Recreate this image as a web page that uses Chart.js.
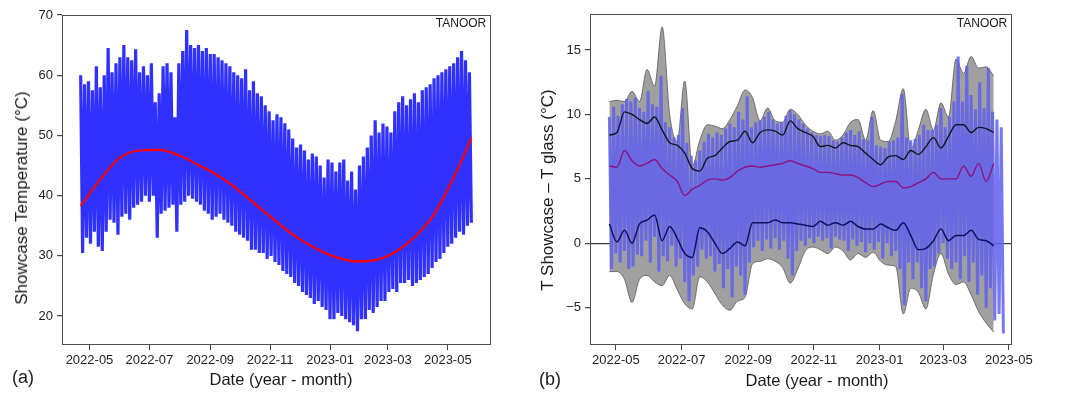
<!DOCTYPE html>
<html>
<head>
<meta charset="utf-8">
<title>TANOOR showcase temperature</title>
<script src="https://cdn.jsdelivr.net/npm/chart.js@4.4.1/dist/chart.umd.min.js"></script>
<style>
  html, body { margin: 0; padding: 0; background: #fff; }
  body { position: relative; width: 1067px; height: 394px; overflow: hidden;
         font-family: "Liberation Sans", Arial, sans-serif; color: #1a1a1a; }
  canvas { position: absolute; top: 0; }
  #chartA { left: 0; }
  #chartB { left: 530px; }
  .txt { position: absolute; white-space: nowrap; transform: translate(-50%, -50%); }
  .ytitle { transform: translate(-50%, -50%) rotate(-90deg); font-size: 17px; }
  .xtitle { font-size: 16.5px; }
  .tag { font-size: 18px; }
  .site { font-size: 12px; }
</style>
</head>
<body>
<canvas id="chartA" width="530" height="394"></canvas>
<canvas id="chartB" width="537" height="394"></canvas>

<div class="txt ytitle" style="left:22px;top:198px">Showcase Temperature (°C)</div>
<div class="txt xtitle" style="left:281px;top:379px">Date (year - month)</div>
<div class="txt tag" style="left:23px;top:377px">(a)</div>
<div class="txt site" style="left:461px;top:23px">TANOOR</div>

<div class="txt ytitle" style="left:548px;top:190px">T Showcase – T glass (°C)</div>
<div class="txt xtitle" style="left:817px;top:380px">Date (year - month)</div>
<div class="txt tag" style="left:550px;top:379px">(b)</div>
<div class="txt site" style="left:982px;top:23px">TANOOR</div>

<script>
// x-axis ticks, shared by both panels
const dateTicks = ['2022-05', '2022-07', '2022-09', '2022-11', '2023-01', '2023-03', '2023-05'];

// (a) showcase temperature: daily max / min, read every 4 days from 2022-04-22
const aFirst = '2022-04-22';
const aStep = 4;
const aMax = [60.0, 58.5, 59.0, 57.5, 61.5, 58.0, 60.0, 64.5, 60.5, 62.0,
              63.0, 65.0, 63.0, 62.5, 64.3, 60.5, 61.5, 60.0, 62.0, 55.5,
              57.0, 61.5, 62.0, 60.5, 53.0, 62.0, 64.0, 67.5, 65.0, 64.5,
              65.0, 64.0, 64.5, 63.5, 63.5, 63.0, 62.5, 62.0, 61.5, 60.5,
              60.0, 59.5, 61.0, 57.5, 59.0, 57.0, 56.5, 55.0, 54.0, 52.5,
              53.5, 53.0, 52.0, 51.0, 49.5, 48.0, 48.5, 47.5, 46.0, 47.0,
              46.5, 45.0, 43.0, 46.0, 45.5, 44.0, 45.5, 46.0, 42.5, 44.0,
              41.0, 45.0, 46.5, 48.0, 50.0, 52.5, 50.5, 52.0, 51.5, 50.5,
              54.0, 55.5, 56.5, 55.0, 56.0, 57.0, 55.5, 57.5, 58.0, 58.5,
              59.5, 60.0, 60.5, 61.0, 61.5, 62.0, 63.0, 64.0, 62.5, 60.5];
const aMin = [30.5, 33.0, 32.0, 34.0, 31.5, 30.8, 34.0, 36.0, 35.5, 33.5,
              36.5, 37.0, 36.0, 38.0, 38.5, 39.0, 40.0, 39.0, 40.0, 33.0,
              37.0, 37.5, 38.0, 38.5, 34.0, 38.5, 39.0, 40.0, 39.5, 39.0,
              38.5, 37.5, 37.0, 36.0, 36.5, 37.0, 36.0, 35.5, 35.0, 34.0,
              33.5, 33.0, 32.5, 31.0, 31.0, 30.5, 30.5, 29.5, 30.0, 29.0,
              28.5, 27.5, 27.0, 26.5, 25.5, 25.0, 24.0, 23.5, 23.0, 22.0,
              22.5, 21.5, 21.0, 19.5, 19.5, 20.5, 20.0, 19.5, 19.0, 18.5,
              17.5, 19.5, 19.5, 21.0, 20.5, 21.5, 22.5, 22.5, 24.0, 24.5,
              24.0, 25.5, 25.5, 26.0, 25.0, 25.5, 26.0, 26.5, 27.0, 28.0,
              29.0, 29.5, 30.5, 31.5, 32.0, 33.0, 34.0, 33.5, 35.0, 35.5];
// red trend curve, days after 2022-04-22
const trendDay = [0, 20, 40, 60, 80, 100, 120, 140, 160, 180, 200,
                  220, 240, 260, 280, 300, 320, 340, 360, 380, 398];
const trendTemp = [38.3, 42.7, 46.3, 47.5, 47.6, 46.7, 45.1, 43.3, 41.0, 38.3, 35.6,
                   33.1, 31.2, 29.8, 29.1, 29.3, 30.6, 33.1, 36.9, 43.0, 49.6];

// (b) T showcase - T glass: hourly spread read every 4 days from 2022-04-25
const bFirst = '2022-04-25';
const bBlueStep = 4;
const bHi = [9.8, 10.6, 9.9, 10.8, 11.2, 11.0, 11.3, 10.5, 10.2, 11.8,
             10.8, 10.6, 13.0, 9.4, 9.0, 8.2, 8.4, 10.5, 7.8, 6.8,
             6.4, 7.2, 7.9, 8.5, 8.2, 8.6, 8.4, 8.9, 9.3, 9.0,
             10.2, 9.6, 11.4, 9.0, 9.4, 9.5, 9.8, 10.2, 9.6, 9.3,
             9.4, 9.9, 10.3, 10.0, 9.6, 9.3, 8.9, 8.6, 8.4, 8.3,
             8.4, 8.3, 8.0, 7.9, 8.2, 8.6, 8.8, 8.4, 8.7, 8.1,
             8.0, 9.8, 7.6, 7.5, 7.4, 7.9, 8.0, 8.2, 11.6, 8.2,
             8.0, 8.1, 8.4, 9.2, 8.8, 8.8, 9.2, 10.5, 9.0, 9.8,
             11.0, 14.5, 11.0, 13.8, 11.5, 10.4, 12.5, 10.5, 13.6, 10.2,
             9.6, 9.0];
const bLo = [-2.0, -0.8, -1.5, -0.6, -2.0, -1.8, -0.9, -1.0, 0.2, -1.5,
             0.5, -2.2, -1.0, -1.4, -0.2, -1.8, -1.2, -3.0, -4.5, -2.5,
             -1.8, -0.5, -1.2, -1.0, -2.2, -1.6, -3.5, -2.0, -4.2, -1.8,
             -2.5, -4.0, -1.5, -0.3, 0.2, -0.6, 0.3, -0.4, 0.4, -0.5,
             0.2, -1.2, -2.5, -0.6, 0.2, -0.2, 0.4, 0.0, 0.5, 0.2,
             0.4, -0.4, 0.5, 0.3, 0.2, -0.6, 0.3, -0.2, 0.1, -0.7,
             0.0, -0.5, 0.1, -1.2, 0.0, -1.0, -0.6, -2.0, -4.8, -1.5,
             -2.8, -1.5, -3.5, -4.5, -2.0, -1.8, -0.8, 0.0, -1.2, -2.0,
             -1.5, -2.8, -1.0, -3.0, -1.5, -4.0, -2.5, -5.0, -3.5, -6.0,
             -5.5, -7.0];
// smoothed curves, read every 7 days from 2022-04-25
const bLineStep = 7;
const grayTop = [11.0, 11.1, 11.0, 11.8, 11.0, 13.5, 12.2, 16.8, 10.0, 7.9,
                 12.6, 6.0, 8.0, 9.2, 9.1, 8.9, 9.6, 10.7, 11.9, 11.3,
                 9.5, 10.5, 9.5, 9.4, 10.4, 10.0, 9.2, 8.7, 8.5, 8.7,
                 8.0, 8.4, 9.4, 9.6, 8.0, 10.3, 8.0, 7.9, 9.5, 12.0,
                 7.3, 8.8, 10.4, 8.8, 10.9, 9.8, 14.3, 13.2, 14.5, 13.6,
                 13.7, 13.0];
const grayBottom = [-2.2, -2.2, -2.8, -4.6, -2.8, -2.5, -3.0, -3.3, -2.5, -3.6,
                    -4.7, -5.1, -2.6, -3.0, -3.9, -4.8, -5.2, -4.5, -4.2, -1.6,
                    -1.4, -1.2, -1.4, -1.9, -3.1, -2.0, -0.6, -0.3, -0.5, -0.8,
                    -0.3, -0.6, -1.3, -0.8, -1.1, -0.7, -1.4, -1.7, -1.8, -5.5,
                    -3.5, -3.8, -5.1, -2.4, -0.8, -2.4, -3.2, -3.0, -4.0, -5.3,
                    -6.2, -6.9];
const lineUpper = [8.4, 8.6, 10.2, 10.0, 9.6, 9.3, 9.8, 8.8, 7.8, 7.6,
                   7.0, 5.8, 5.6, 6.6, 6.8, 7.4, 7.9, 8.0, 8.7, 7.8,
                   8.6, 8.8, 8.7, 8.4, 9.5, 8.9, 8.6, 8.3, 7.5, 7.6,
                   7.4, 7.8, 7.6, 7.5, 7.0, 6.5, 6.1, 6.7, 6.8, 6.5,
                   7.2, 6.9, 7.5, 8.2, 7.4, 8.3, 9.2, 9.2, 8.6, 9.0,
                   8.9, 8.6];
const lineMid = [6.0, 5.9, 7.2, 6.4, 6.0, 6.2, 6.5, 5.8, 5.3, 4.8,
                 3.7, 4.2, 4.5, 4.9, 5.0, 4.9, 5.1, 5.6, 5.9, 6.0,
                 5.9, 6.0, 6.1, 6.2, 6.4, 6.2, 6.0, 5.8, 5.5, 5.5,
                 5.4, 5.3, 5.3, 5.1, 4.7, 4.4, 4.6, 4.8, 4.8, 4.3,
                 4.4, 4.7, 5.0, 5.5, 5.0, 5.0, 5.0, 6.0, 5.2, 6.2,
                 4.8, 6.2];
const lineLower = [1.5, 0.1, 1.0, 0.0, 1.5, 1.8, 2.2, 0.2, 1.3, 0.4,
                   -0.8, -1.1, 1.2, 0.9, 0.0, -0.8, -0.4, 0.1, -0.2, 1.6,
                   1.6, 1.6, 1.8, 1.6, 1.6, 1.5, 1.4, 1.3, 1.7, 1.4,
                   1.6, 1.4, 1.7, 1.3, 1.1, 1.1, 1.5, 1.2, 1.0, 1.6,
                   0.6, -0.5, -0.4, 0.2, 1.1, 0.2, 0.6, 0.6, 1.0, 0.3,
                   0.2, -0.2];

// days since 2022-04-22 ('YYYY-MM' means the 1st of the month)
const dayNum = s => (Date.UTC(+s.slice(0, 4), +s.slice(5, 7) - 1, +(s.slice(8, 10) || 1))
                     - Date.UTC(2022, 3, 22)) / 864e5;
const tickDays = dateTicks.map(dayNum);

function series(first, step, vals) {
  const x0 = dayNum(first);
  return vals.map((v, i) => ({ x: x0 + i * step, y: v }));
}

// daily swing drawn as max/min alternating line
function zigzag(first, step, hi, lo) {
  const x0 = dayNum(first);
  const pts = [];
  hi.forEach((v, i) => {
    pts.push({ x: x0 + i * step, y: v });
    pts.push({ x: x0 + i * step + step / 2, y: lo[i] });
  });
  return pts;
}

const tickFont = { family: '"Liberation Sans", Arial, sans-serif', size: 13 };

function xAxis(min, max) {
  return {
    type: 'linear', min, max,
    afterBuildTicks: s => { s.ticks = tickDays.map(v => ({ value: v })); },
    afterFit: s => { s.height = 49; },
    ticks: {
      font: tickFont, color: '#222', padding: 3, maxRotation: 0, autoSkip: false,
      callback: v => { const k = tickDays.indexOf(v); return k < 0 ? '' : dateTicks[k]; }
    },
    grid: { drawOnChartArea: false, tickLength: 5, tickColor: '#444' },
    border: { display: false }
  };
}

function yAxis(min, max, ticks, width, zeroLine) {
  return {
    type: 'linear', min, max,
    afterBuildTicks: s => { s.ticks = ticks.map(v => ({ value: v })); },
    afterFit: s => { s.width = width; },
    ticks: {
      font: tickFont, color: '#222', padding: 4,
      callback: v => v < 0 ? '\u2212' + Math.abs(v) : String(v)
    },
    grid: {
      drawOnChartArea: zeroLine,
      color: c => (zeroLine && c.tick && c.tick.value === 0) ? '#3c3c3c' : 'rgba(0,0,0,0)',
      lineWidth: 1.2, tickLength: 5, tickColor: '#444'
    },
    border: { display: false },
    z: zeroLine ? 1 : 0
  };
}

// matplotlib style box around the plot area
const frame = {
  id: 'frame',
  afterDraw(chart) {
    const { ctx, chartArea: a } = chart;
    ctx.save();
    ctx.strokeStyle = '#4d4d4d';
    ctx.lineWidth = 1;
    ctx.strokeRect(a.left + 0.5, a.top + 0.5, a.right - a.left - 1, a.bottom - a.top - 1);
    ctx.restore();
  }
};

const common = {
  responsive: false,
  animation: false,
  events: [],
  plugins: { legend: { display: false }, tooltip: { enabled: false } }
};

// panel (a)
new Chart(document.getElementById('chartA'), {
  type: 'line',
  data: {
    datasets: [
      {
        data: zigzag(aFirst, aStep, aMax, aMin),
        borderColor: 'rgba(32,32,255,0.92)', borderWidth: 3.2, borderJoinStyle: 'bevel',
        pointRadius: 0, tension: 0, order: 2
      },
      {
        data: trendDay.map((d, i) => ({ x: dayNum(aFirst) + d, y: trendTemp[i] })),
        borderColor: '#ff0000', borderWidth: 2.2,
        pointRadius: 0, cubicInterpolationMode: 'monotone', order: 1
      }
    ]
  },
  options: {
    ...common,
    layout: { padding: { left: 0, top: 15, right: 39, bottom: 0 } },
    scales: {
      x: xAxis(-19, 418),
      y: yAxis(15.2, 70, [20, 30, 40, 50, 60, 70], 62, false)
    }
  },
  plugins: [frame]
});

// panel (b)
const lineStyle = { pointRadius: 0, cubicInterpolationMode: 'monotone' };
new Chart(document.getElementById('chartB'), {
  type: 'line',
  data: {
    datasets: [
      {
        data: series(bFirst, bLineStep, grayTop), ...lineStyle,
        borderColor: '#555', borderWidth: 0.8,
        fill: '+1', backgroundColor: 'rgb(160,160,160)', order: 10
      },
      {
        data: series(bFirst, bLineStep, grayBottom), ...lineStyle,
        borderColor: '#555', borderWidth: 0.8, fill: false, order: 9
      },
      {
        data: zigzag(bFirst, bBlueStep, bHi, bLo),
        borderColor: 'rgba(95,95,236,0.85)', borderWidth: 3, borderJoinStyle: 'bevel',
        pointRadius: 0, tension: 0, order: 5
      },
      {
        data: series(bFirst, bLineStep, lineLower), ...lineStyle,
        borderColor: '#101060', borderWidth: 1.5, order: 3
      },
      {
        data: series(bFirst, bLineStep, lineMid), ...lineStyle,
        borderColor: '#8c1280', borderWidth: 1.4, order: 2
      },
      {
        data: series(bFirst, bLineStep, lineUpper), ...lineStyle,
        borderColor: '#141420', borderWidth: 1.4, order: 1
      }
    ]
  },
  options: {
    ...common,
    layout: { padding: { left: 0, top: 14, right: 55, bottom: 0 } },
    scales: {
      x: xAxis(-15, 377),
      y: yAxis(-7.9, 17.8, [-5, 0, 5, 10, 15], 60, true)
    }
  },
  plugins: [frame]
});
</script>
</body>
</html>
